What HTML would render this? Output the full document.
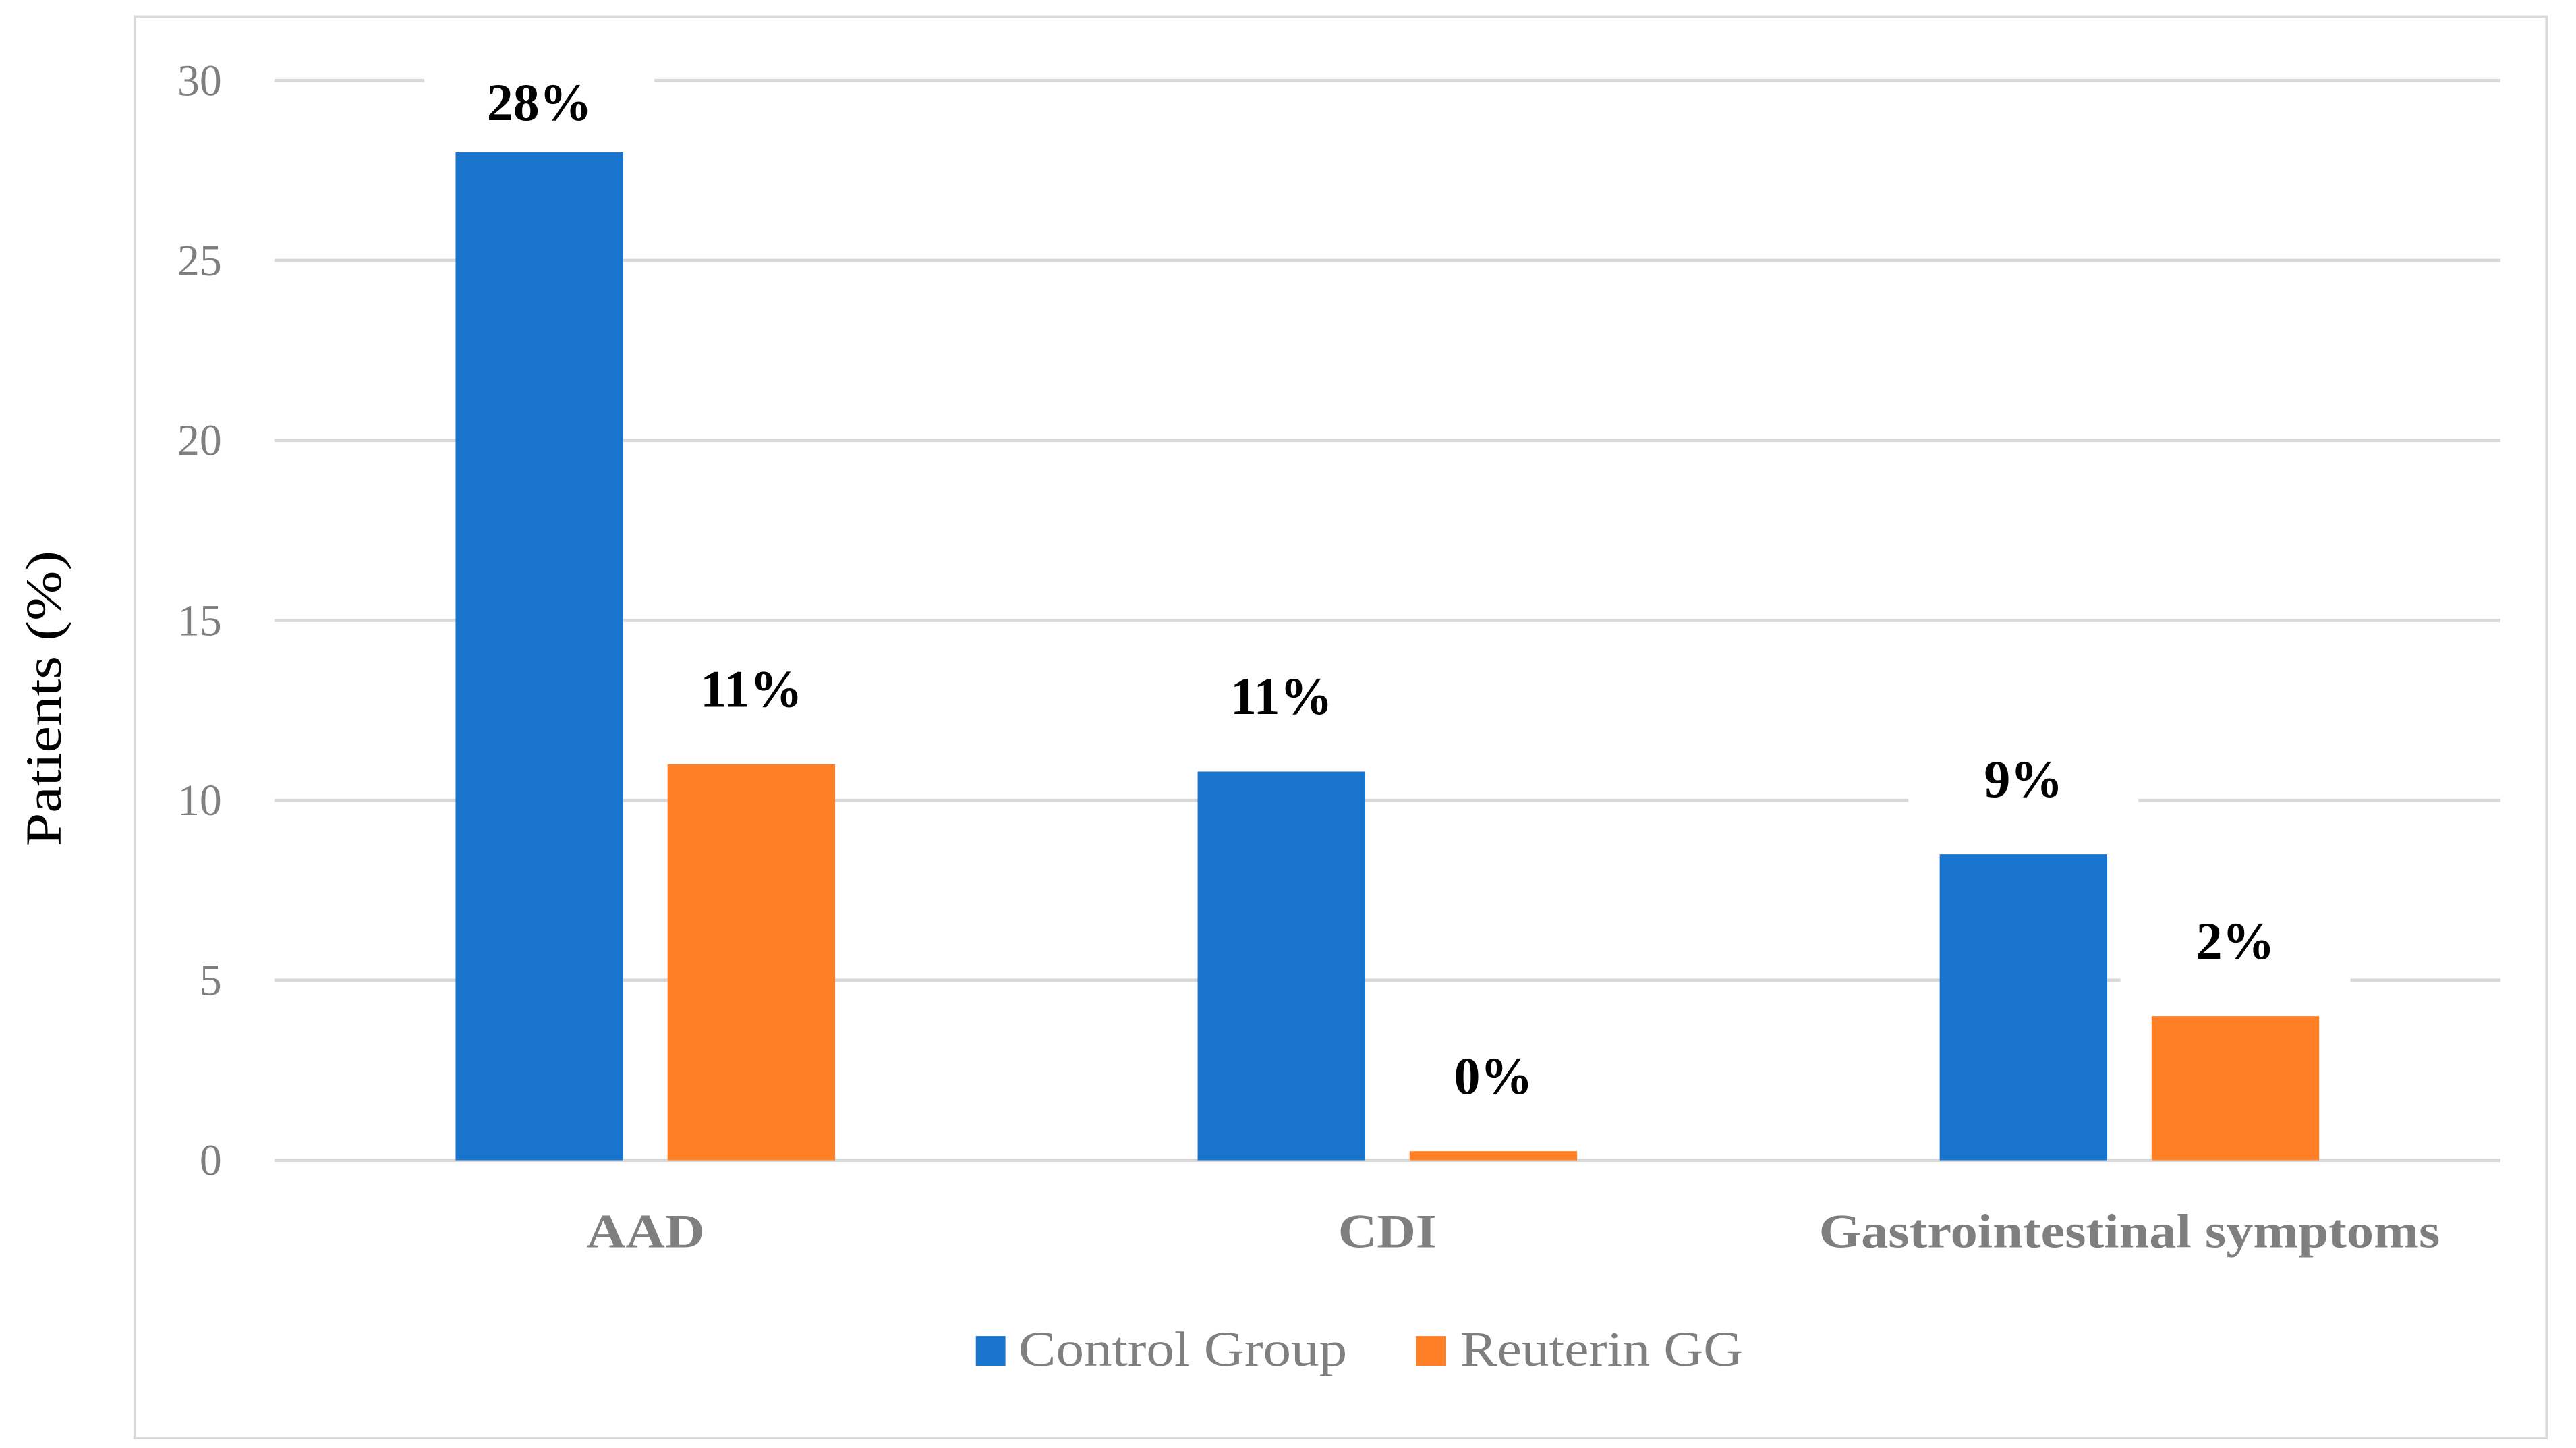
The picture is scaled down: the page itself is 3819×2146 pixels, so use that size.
<!DOCTYPE html>
<html><head><meta charset="utf-8"><style>
html,body{margin:0;padding:0;background:#fff;}
svg{display:block;}
text{font-family:"Liberation Serif",serif;}
</style></head><body>
<svg id="chart" width="3819" height="2146" viewBox="0 0 1568 881.1" xmlns="http://www.w3.org/2000/svg">
<rect x="82" y="10" width="1468" height="865" fill="#fff" stroke="#d9d9d9" stroke-width="1.5"/>
<g id="grid"></g>
<g id="bars"></g>
<g id="labels"></g>
<text transform="translate(37,425) rotate(-90)" text-anchor="middle" font-size="31" fill="#000" textLength="180" lengthAdjust="spacingAndGlyphs">Patients (%)</text>
<g>
<rect x="594" y="813" width="18" height="18" fill="#1874CD"/>
<text x="620" y="831" font-size="30" fill="#7f7f7f" textLength="200" lengthAdjust="spacingAndGlyphs">Control Group</text>
<rect x="862" y="813" width="18" height="18" fill="#FF7F27"/>
<text x="889" y="831" font-size="30" fill="#7f7f7f" textLength="172" lengthAdjust="spacingAndGlyphs">Reuterin GG</text>
</g>
</svg>
<script>
const categories = ["AAD", "CDI", "Gastrointestinal symptoms"];
const controlValues = [28, 10.8, 8.5];
const reuterinValues = [11, 0.25, 4];
const controlLabels = ["28%", "11%", "9%"];
const reuterinLabels = ["11%", "0%", "2%"];
const yTicks = [0, 5, 10, 15, 20, 25, 30];

const NS = "http://www.w3.org/2000/svg";
const x0 = 167, x1 = 1522, y0 = 706, yTop = 49, yMax = 30;
const y = v => y0 - (v / yMax) * (y0 - yTop);
const bandW = (x1 - x0) / categories.length;
const bandC = i => x0 + bandW * (i + 0.5);
const barW = 102, gap = 27;
function mk(tag, attrs, parent) {
  const e = document.createElementNS(NS, tag);
  for (const k in attrs) e.setAttribute(k, attrs[k]);
  parent.appendChild(e);
  return e;
}
const grid = document.getElementById('grid');
const bars = document.getElementById('bars');
const labels = document.getElementById('labels');
yTicks.forEach(t => {
  const l = mk('line', {x1: x0, x2: x1, y1: y(t), y2: y(t), stroke: '#d9d9d9', 'stroke-width': 2}, grid);
  
  
  const tx = mk('text', {x: 135, y: y(t) + 9, 'text-anchor': 'end', 'font-size': 27, fill: '#7f7f7f'}, grid);
  tx.textContent = t;
  
  
});
function drawLabel(cx, v, txt, name) {
  const ty = Math.max(y(v) - 46, yTop + 13);
  const bg = mk('rect', {x: cx - 70, y: ty - 30, width: 140, height: 56, fill: '#fff'}, labels);
  
  
  const t = mk('text', {x: cx, y: ty + 11, 'text-anchor': 'middle', 'font-size': 32, 'font-weight': 'bold', fill: '#000'}, labels);
  t.textContent = txt;
  
  
}
const catWidths = [72, 60, 378];
categories.forEach((c, i) => {
  const cx = bandC(i);
  const bx1 = cx - gap / 2 - barW, bx2 = cx + gap / 2;
  const b1 = mk('rect', {x: bx1, y: y(controlValues[i]), width: barW, height: y0 - y(controlValues[i]), fill: '#1874CD'}, bars);
  
  
  const b2 = mk('rect', {x: bx2, y: y(reuterinValues[i]), width: barW, height: y0 - y(reuterinValues[i]), fill: '#FF7F27'}, bars);
  
  
  drawLabel(bx1 + barW / 2, controlValues[i], controlLabels[i], 'control-' + i);
  drawLabel(bx2 + barW / 2, reuterinValues[i], reuterinLabels[i], 'reuterin-' + i);
  const ct = mk('text', {x: cx, y: 759, 'text-anchor': 'middle', 'font-size': 29, 'font-weight': 'bold', fill: '#7f7f7f', textLength: catWidths[i] || 100, lengthAdjust: 'spacingAndGlyphs'}, labels);
  ct.textContent = c;
  
  
});
</script>
</body></html>
